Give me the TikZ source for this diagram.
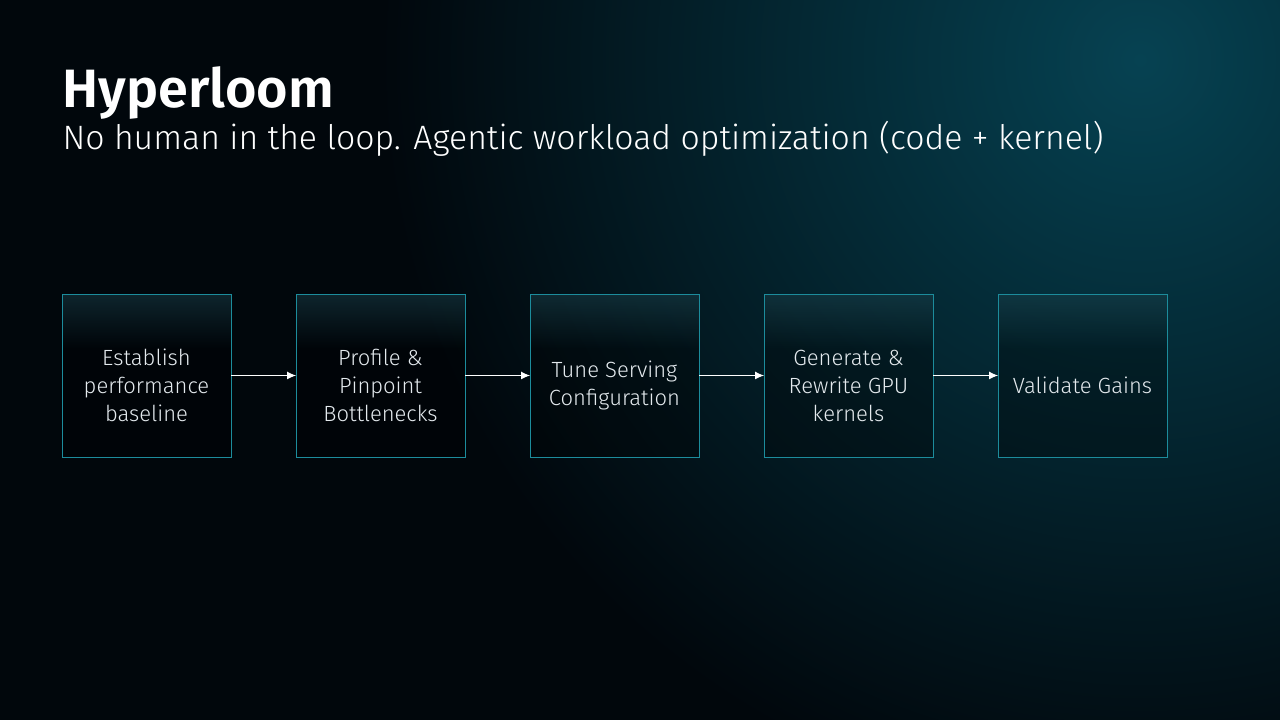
\documentclass[tikz,border=0pt]{standalone}
\usepackage{fontspec}
\setmainfont{Fira Sans}[UprightFont=* Light, BoldFont=* SemiBold]
\usepackage{xcolor}
\usepackage{tikz}
\usetikzlibrary{arrows.meta, positioning, fadings}

\definecolor{bgdark}{HTML}{01070C}
\definecolor{bgglow}{HTML}{064252}
\definecolor{boxline}{HTML}{1C8C9C}
\definecolor{boxtop}{HTML}{27606F}
\definecolor{steptext}{HTML}{E4EAEE}

% top of each box glows, lower part stays see-through
\begin{tikzfadingfrompicture}[name=topglow]
  \fill[transparent!100] (-50bp,-50bp) rectangle (50bp,50bp);
  \shade[top color=transparent!10, bottom color=transparent!100]
    (-50bp,8bp) rectangle (50bp,50bp);
\end{tikzfadingfrompicture}

\begin{document}
\begin{tikzpicture}[x=1pt,y=1pt,->,>={Latex[length=9pt,width=8pt]},
  node distance=234pt,
  stepbox/.style={rectangle,draw=boxline,line width=0.9pt,
    fill=black,fill opacity=0.3,text opacity=1,
    minimum width=169pt,minimum height=163pt,inner sep=0pt,outer sep=0pt,
    path picture={\fill[boxtop,fill opacity=1,path fading=topglow]
      (path picture bounding box.south west) rectangle
      (path picture bounding box.north east);}},
  steplabel/.style={align=center,text=steptext,yshift=-10pt,
    font=\fontsize{22}{28}\selectfont}]

  % background with glow in the upper right corner
  \useasboundingbox (0,0) rectangle (1280,720);
  \fill[bgdark] (0,0) rectangle (1280,720);
  \begin{scope}
    \clip (0,0) rectangle (1280,720);
    \shade[inner color=bgglow,outer color=bgdark] (1140,660) circle (760pt);
  \end{scope}

  \node[anchor=base west,text=white,font=\fontsize{54}{60}\selectfont\bfseries]
    (title) at (59,612) {Hyperloom};
  \node[anchor=base west,text=white,font=\fontsize{33.8}{40}\selectfont]
    (subtitle) at (59,570) {No human in the loop. Agentic workload optimization (code + kernel)};

  \node[stepbox,label={[steplabel]center:{Establish\\performance\\baseline}}]
    (baseline) at (146.5,344.5) {};
  \node[stepbox,label={[steplabel]center:{Profile \&\\Pinpoint\\Bottlenecks}}]
    (profile) [right of=baseline] {};
  \node[stepbox,label={[steplabel]center:{Tune Serving\\Configuration}}]
    (tune) [right of=profile] {};
  \node[stepbox,label={[steplabel]center:{Generate \&\\Rewrite GPU\\kernels}}]
    (rewrite) [right of=tune] {};
  \node[stepbox,label={[steplabel]center:{Validate Gains}}]
    (validate) [right of=rewrite] {};

  \path[color=white,line width=0.9pt]
    (baseline) edge (profile)
    (profile) edge (tune)
    (tune) edge (rewrite)
    (rewrite) edge (validate);
\end{tikzpicture}
\end{document}
